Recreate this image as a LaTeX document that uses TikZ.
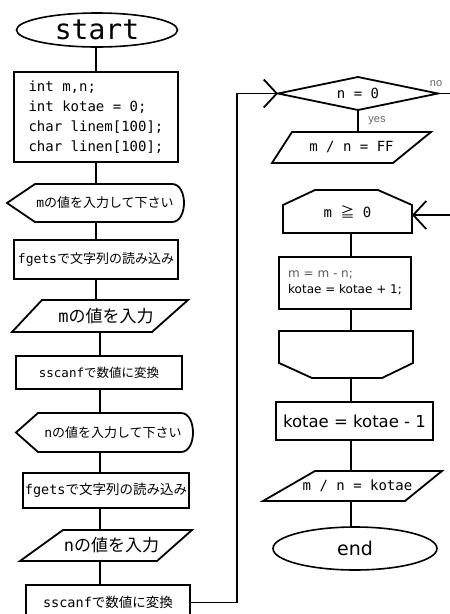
\documentclass[tikz,border=0pt]{standalone}
\usepackage{fontspec}
\setmainfont{DejaVu Sans}
\newfontfamily\mono{DejaVu Sans Mono}
\newfontfamily\jp{Noto Sans CJK JP}
\newfontfamily\lab{Liberation Sans}
\usetikzlibrary{shapes.geometric,arrows.meta,calc}
\tikzset{
  shp/.style={draw=none,inner sep=0pt,outer sep=0pt,rectangle},
  boxnode/.style={draw,line width=1.8pt,inner sep=0pt,outer sep=0pt,rectangle},
  term/.style={draw,line width=1.6pt,ellipse,inner sep=0pt,outer sep=0pt},
  barb/.style={-{Straight Barb[length=13pt,width=28pt]}},
  lbl/.style={text=black!60,font=\lab\fontsize{11}{11}\selectfont,inner sep=0pt},
}
\begin{document}
\begin{tikzpicture}[x=1pt,y=-1pt,line width=1.8pt,line join=miter]
\useasboundingbox (0,0) rectangle (450,614);
\fill[white] (0,0) rectangle (450,614);
\clip (0,0) rectangle (450,614);

% column coordinates
\coordinate (colA) at (96,0);
\coordinate (colB) at (100,0);
\coordinate (colR) at (351,0);
\coordinate (lp) at (237,93.5);
\coordinate (noR) at (450,93.5);
\coordinate (inR) at (450,215);

% ---------- left column ----------
\node[term, minimum width=161pt, minimum height=34pt, font=\mono\fontsize{28}{28}\selectfont] (st) at (97,30) {start};

\node[boxnode, minimum width=164pt, minimum height=90pt, align=left, font=\mono\fontsize{14}{20}\selectfont] (b1) at (96,117)
  {int m,n;\\int kotae = 0;\\char linem[100];\\char linen[100];};

\node[shp, minimum width=177pt, minimum height=38pt, font=\fontsize{13}{13}\selectfont] (d1) at (95.5,203)
  {\hspace{19pt}{\mono m}{\jp の値を入力して下さい}};
\draw (d1.west) -- ([xshift=28pt]d1.north west) -- ([xshift=-12pt]d1.north east)
  .. controls ([xshift=4pt]d1.north east) and ([xshift=4pt]d1.south east) .. ([xshift=-12pt]d1.south east)
  -- ([xshift=28pt]d1.south west) -- cycle;

\node[boxnode, minimum width=164pt, minimum height=39pt, font=\fontsize{13}{13}\selectfont] (f1) at (96,259.5)
  {{\mono fgets}{\jp で文字列の読み込み}};

\node[shp, minimum width=176pt, minimum height=32pt, font=\fontsize{17}{17}\selectfont] (p1) at (100,316)
  {\hspace{12pt}{\mono m}{\jp の値を入力}};
\draw ([xshift=30pt]p1.north west) -- (p1.north east) -- ([xshift=-36pt]p1.south east) -- (p1.south west) -- cycle;

\node[boxnode, minimum width=166pt, minimum height=33pt, font=\fontsize{12.5}{12.5}\selectfont] (s1) at (99,372.5)
  {{\mono sscanf}{\jp で数値に変換}\hspace{15pt}};

\node[shp, minimum width=177pt, minimum height=39pt, font=\fontsize{13}{13}\selectfont] (d2) at (104.5,432.5)
  {\hspace{17pt}{\mono n}{\jp の値を入力して下さい}};
\draw (d2.west) -- ([xshift=22pt]d2.north west) -- ([xshift=-12pt]d2.north east)
  .. controls ([xshift=4pt]d2.north east) and ([xshift=4pt]d2.south east) .. ([xshift=-12pt]d2.south east)
  -- ([xshift=22pt]d2.south west) -- cycle;

\node[boxnode, minimum width=166pt, minimum height=35pt, font=\fontsize{13.5}{13.5}\selectfont] (f2) at (106,490.5)
  {{\mono fgets}{\jp で文字列の読み込み}};

\node[shp, minimum width=172pt, minimum height=31pt, font=\fontsize{17}{17}\selectfont] (p2) at (106,545.5)
  {\hspace{11pt}{\mono n}{\jp の値を入力}};
\draw ([xshift=43pt]p2.north west) -- (p2.north east) -- ([xshift=-35pt]p2.south east) -- (p2.south west) -- cycle;

\node[boxnode, minimum width=164pt, minimum height=35pt, font=\fontsize{13.5}{13.5}\selectfont] (s2) at (108,602.5)
  {{\mono sscanf}{\jp で数値に変換}\hspace{6pt}};

% left connectors
\draw (st.south -| colA) -- (b1.north -| colA);
\draw (b1.south -| colA) -- (d1.north -| colA);
\draw (d1.south -| colA) -- (f1.north -| colA);
\draw (f1.south -| colA) -- (p1.north -| colA);
\draw (p1.south -| colB) -- (s1.north -| colB);
\draw (s1.south -| colB) -- (d2.north -| colB);
\draw (d2.south -| colB) -- (f2.north -| colB);
\draw (f2.south -| colB) -- (p2.north -| colB);
\draw (p2.south -| colB) -- (s2.north -| colB);

% ---------- right column ----------
\node[shp, minimum width=160pt, minimum height=33pt, font=\mono\fontsize{14}{14}\selectfont] (dia) at (358,93.5) {n = 0};
\draw (dia.west) -- (dia.north) -- (dia.east) -- (dia.south) -- cycle;
\node[lbl] (no) at (436,84) {no};
\node[lbl] (yes) at (377,121) {yes};

\node[shp, minimum width=159pt, minimum height=31pt, font=\mono\fontsize{14}{14}\selectfont] (ff) at (351.5,147.5) {m / n = FF};
\draw ([xshift=20pt]ff.north west) -- (ff.north east) -- ([xshift=-38pt]ff.south east) -- (ff.south west) -- cycle;

\node[shp, minimum width=129pt, minimum height=43pt, font=\fontsize{14}{14}\selectfont] (hex) at (347.5,211.5)
  {{\mono m }{\jp ≧}{\mono\ 0}};
\draw (hex.south west) -- ([yshift=-15pt]hex.north west) -- ([xshift=32pt]hex.north west)
  -- ([xshift=-34pt]hex.north east) -- ([yshift=-15pt]hex.north east) -- (hex.south east) -- cycle;

\node[boxnode, minimum width=132pt, minimum height=52pt, align=left, font=\fontsize{12}{16}\selectfont] (b2) at (345,283)
  {{\color{black!65}m = m - n;}\\kotae = kotae + 1;};

\node[shp, minimum width=134pt, minimum height=47pt] (le) at (346,354.5) {};
\draw (le.north west) -- ([yshift=15pt]le.south west) -- ([xshift=33pt]le.south west)
  -- ([xshift=-31pt]le.south east) -- ([yshift=15pt]le.south east) -- (le.north east) -- cycle;

\node[boxnode, minimum width=157pt, minimum height=38pt, font=\fontsize{16.5}{16.5}\selectfont] (kb) at (354.5,421) {kotae = kotae - 1};

\node[shp, minimum width=179pt, minimum height=30pt, font=\mono\fontsize{14}{14}\selectfont] (pk) at (352.5,486)
  {\hspace{10pt}m / n = kotae};
\draw ([xshift=52pt]pk.north west) -- (pk.north east) -- ([xshift=-37pt]pk.south east) -- (pk.south west) -- cycle;

\node[term, minimum width=164pt, minimum height=43pt, font=\fontsize{19}{19}\selectfont] (en) at (355,548.5) {end};

% right connectors
\draw (dia.south) -- (dia.south |- ff.north);
\draw (hex.south -| colR) -- (b2.north -| colR);
\draw (b2.south -| colR) -- (le.north -| colR);
\draw (le.south -| colR) -- (kb.north -| colR);
\draw (kb.south -| colR) -- (pk.north -| colR);
\draw (pk.south -| colR) -- (en.north -| colR);

% loop back and exits
\draw[barb] (s2.east) -| (lp) -- (dia.west);
\draw (dia.east) -- (noR);
\draw[barb] (inR) -- (inR -| hex.east);
\end{tikzpicture}
\end{document}
